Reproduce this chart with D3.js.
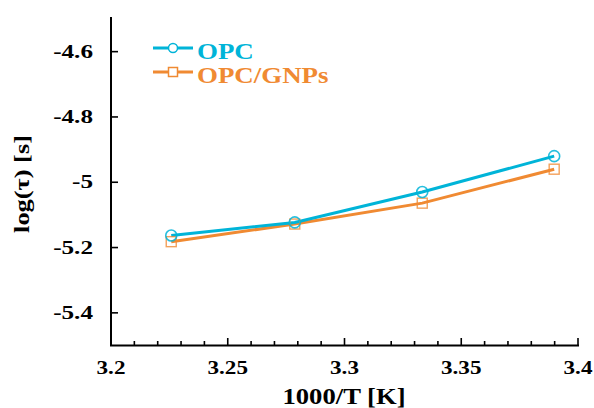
<!DOCTYPE html>
<html><head><meta charset="utf-8">
<script src="https://cdn.jsdelivr.net/npm/d3@7"></script>
<style>body{margin:0;background:#fff}svg{display:block}</style>
</head><body><div id="chart"></div>
<script>
const xValues = [3.2258, 3.2787, 3.3333, 3.3898];
const opc = [-5.163, -5.123, -5.030, -4.920];
const opcGnps = [-5.182, -5.128, -5.064, -4.960];
const seriesNames = ["OPC", "OPC/GNPs"];
const xTicks = [3.2, 3.25, 3.3, 3.35, 3.4];
const xTickLabels = ["3.2", "3.25", "3.3", "3.35", "3.4"];
const yTicks = [-5.4, -5.2, -5.0, -4.8, -4.6];
const yTickLabels = ["-5.4", "-5.2", "-5", "-4.8", "-4.6"];
const colors = ["#00b4d8", "#f08a32"];

const FONT = "'Liberation Serif', 'Times New Roman', Times, 'DejaVu Serif', serif";
const W = 594, H = 408;
const svg = d3.select("#chart").append("svg").attr("width", W).attr("height", H);
const x = d3.scaleLinear().domain([3.2, 3.4]).range([111, 578]);
const y = d3.scaleLinear().domain([-5.5, -4.5]).range([345.5, 19]);

function label(parent, tx, ty, str, size, anchor, sx, rot, fill) {
  return parent.append("text")
    .attr("transform", `translate(${tx},${ty})` + (rot ? ` rotate(${rot})` : "") + ` scale(${sx},1)`)
    .attr("text-anchor", anchor).attr("font-family", FONT).attr("font-weight", "bold")
    .attr("font-size", size).attr("fill", fill || "#000").text(str);
}

// axes lines
const g = svg.append("g");
g.append("line").attr("x1", 111).attr("x2", 111).attr("y1", 17).attr("y2", 345.5).attr("stroke", "#000").attr("stroke-width", 2);
g.append("line").attr("x1", 110).attr("x2", 579).attr("y1", 345.5).attr("y2", 345.5).attr("stroke", "#000").attr("stroke-width", 2);

// x ticks (major + minor)
const minor = d3.range(0, 21).map(i => 3.2 + i * 0.01);
g.selectAll(".xm").data(minor).join("line")
  .attr("x1", d => x(d)).attr("x2", d => x(d))
  .attr("y1", 345.5).attr("y2", (d, i) => i % 5 === 0 ? 338 : 341)
  .attr("stroke", "#000").attr("stroke-width", 1.6);
xTicks.forEach((d, i) => label(g, x(d), 374, xTickLabels[i], 18.5, "middle", 1.25));

// y ticks
g.selectAll(".yt").data(yTicks).join("line")
  .attr("x1", 111).attr("x2", 118).attr("y1", d => y(d)).attr("y2", d => y(d))
  .attr("stroke", "#000").attr("stroke-width", 1.6);
yTicks.forEach((d, i) => label(g, 93, y(d) + 6, yTickLabels[i], 18, "end", 1.4));

// axis titles
label(svg, 344, 404, "1000/T [K]", 24, "middle", 1.11);
label(svg, 29, 184, "log(τ) [s]", 22, "middle", 1.2, -90);

// series
const line = d3.line().x(d => x(d[0])).y(d => y(d[1]));
const data = [opc, opcGnps].map(vals => xValues.map((xv, i) => [xv, vals[i]]));
[1, 0].forEach(s => {
  svg.append("path").datum(data[s]).attr("d", line).attr("fill", "none")
    .attr("stroke", colors[s]).attr("stroke-width", 3);
});
// markers
svg.selectAll(".sq").data(data[1]).join("rect")
  .attr("x", d => x(d[0]) - 5).attr("y", d => y(d[1]) - 5).attr("width", 10).attr("height", 10)
  .attr("fill", "none").attr("stroke", colors[1]).attr("stroke-width", 1.4).attr("opacity", 0.8);
svg.selectAll(".ci").data(data[0]).join("circle")
  .attr("cx", d => x(d[0])).attr("cy", d => y(d[1])).attr("r", 5.5)
  .attr("fill", "none").attr("stroke", colors[0]).attr("stroke-width", 1.6).attr("opacity", 0.85);

// legend
const leg = [{name: seriesNames[0], c: colors[0], y: 48}, {name: seriesNames[1], c: colors[1], y: 72}];
leg.forEach((l, i) => {
  svg.append("line").attr("x1", 153).attr("x2", 193).attr("y1", l.y).attr("y2", l.y).attr("stroke", l.c).attr("stroke-width", 3);
  if (i === 0) svg.append("circle").attr("cx", 173).attr("cy", l.y).attr("r", 4.5).attr("fill", "#fff").attr("stroke", l.c).attr("stroke-width", 1.5);
  else svg.append("rect").attr("x", 168.5).attr("y", l.y - 4.5).attr("width", 9).attr("height", 9).attr("fill", "#fff").attr("stroke", l.c).attr("stroke-width", 1.5);
  label(svg, 197, l.y + 11, l.name, 23, "start", 1.17, 0, l.c);
});
</script></body></html>
